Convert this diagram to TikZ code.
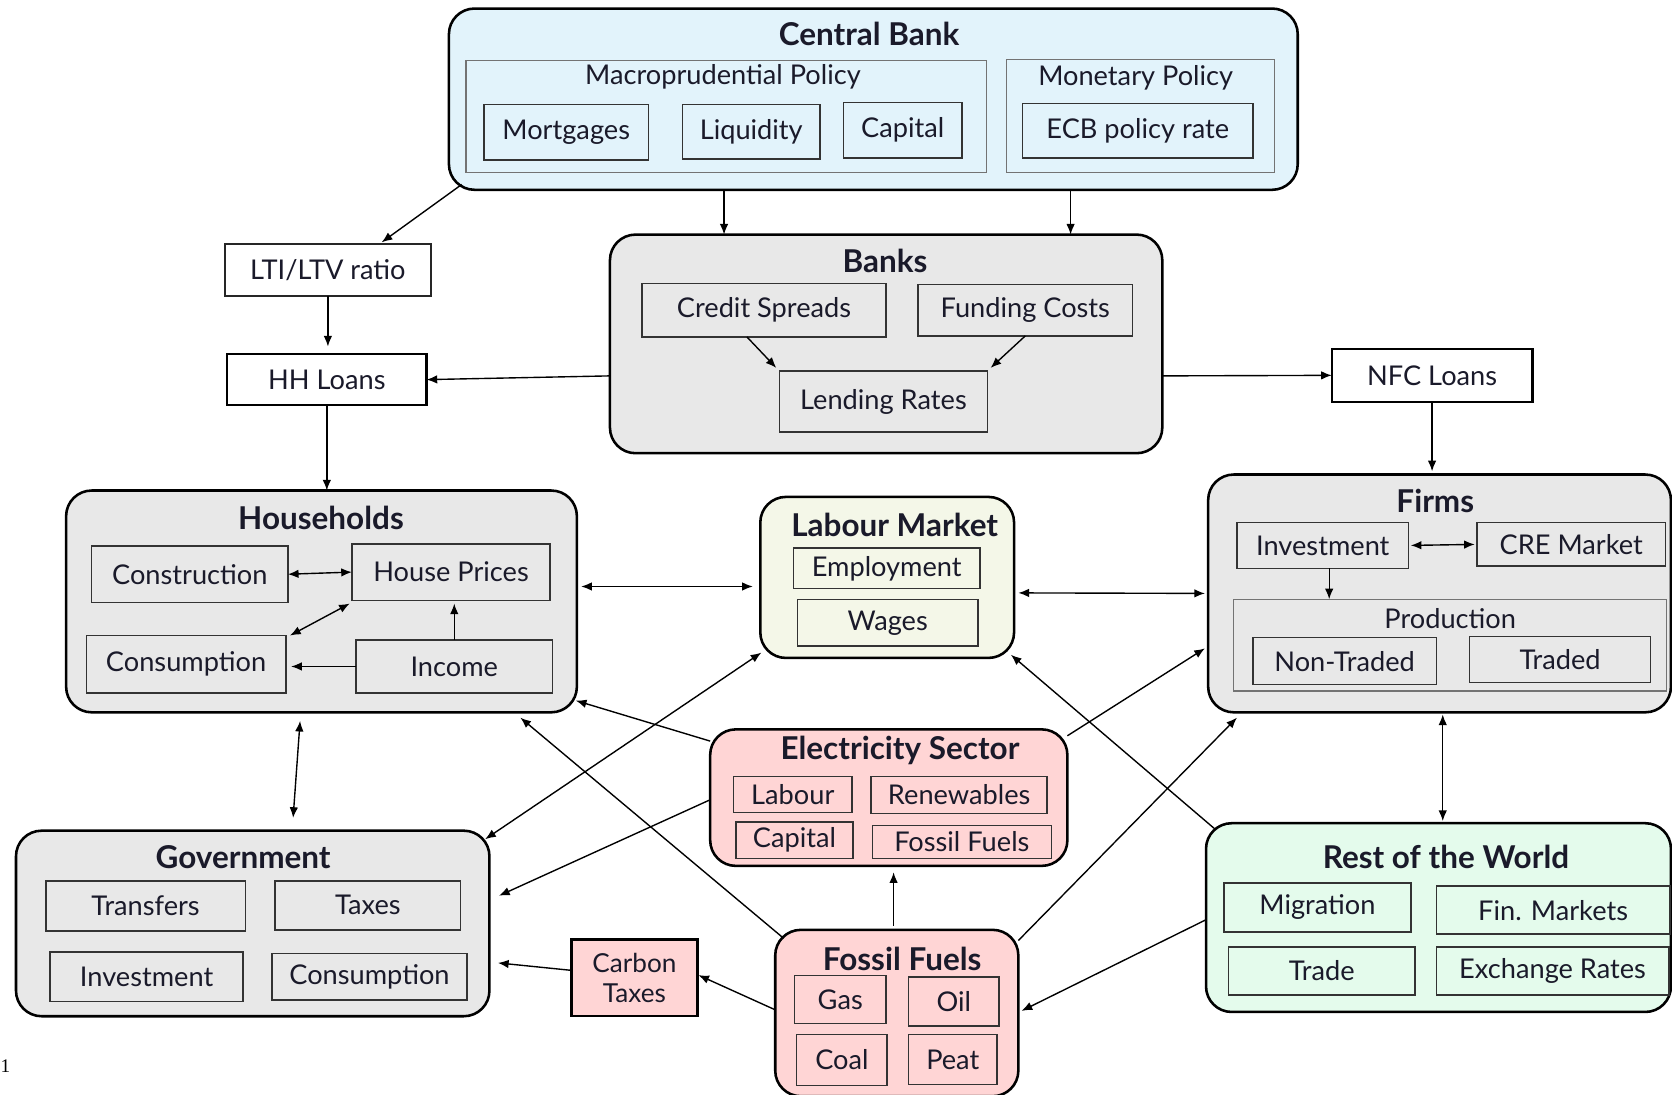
\documentclass[tikz,border=0pt]{standalone}
\usepackage{fontspec}
\setmainfont{Lato}
\newfontfamily\pagefont{Liberation Serif}
\usetikzlibrary{arrows.meta}

\definecolor{ink}{HTML}{1A1A2A}
\definecolor{cbfill}{HTML}{E2F3FB}
\definecolor{grayfill}{HTML}{E8E8E8}
\definecolor{labfill}{HTML}{F4F7E8}
\definecolor{pinkfill}{HTML}{FFD5D5}
\definecolor{rowfill}{HTML}{E4FBEC}

% box from corner (x1,y1) to (x2,y2): style, x1, y1, x2, y2, name, text
\newcommand\bx[7]{%
  \node[inner sep=0pt, outer sep=0pt, #1,
        minimum width={(#4)-(#2)}, minimum height={(#5)-(#3)}]
        (#6) at ({((#2)+(#4))/2},{((#3)+(#5))/2}) {#7};}

\tikzset{
  sector/.style={draw=black, line width=2.4pt, rounded corners=24pt},
  item/.style={draw=black!80, line width=1.4pt, text=ink,
               font=\fontsize{25.5}{30}\selectfont},
  grp/.style={draw=black!55, line width=1.1pt},
  loanbox/.style={item, draw=black, line width=2.2pt, fill=white},
  ttl/.style={font=\fontsize{29.5}{33}\selectfont\bfseries, text=ink, inner sep=0pt},
  subttl/.style={font=\fontsize{25.5}{30}\selectfont, text=ink, inner sep=0pt},
  arr/.style={-{Latex[length=10pt,width=8pt]}, line width=1.3pt},
  darr/.style={{Latex[length=10pt,width=8pt]}-{Latex[length=10pt,width=8pt]}, line width=1.3pt},
}

\begin{document}
\begin{tikzpicture}[x=1pt,y=-1pt]
\useasboundingbox (0,0) rectangle (1568,1026);

% ---------------- Central Bank ----------------
\bx{sector, fill=cbfill}{421}{8}{1217}{178}{cb}{}
\node[ttl] (cbT) at (815,32) {Central Bank};
\bx{grp}{437}{57}{925}{162}{macro}{}
\node[subttl] (macroT) at (678,72) {Macroprudential Policy};
\bx{item}{454}{98}{608}{150}{mort}{Mortgages}
\bx{item}{640}{98}{769}{149}{liq}{Liquidity}
\bx{item}{791}{96}{902}{148}{cap}{Capital}
\bx{grp}{944}{56}{1195}{162}{mon}{}
\node[subttl] (monT) at (1065,73) {Monetary Policy};
\bx{item}{959}{97}{1175}{148}{ecb}{ECB policy rate}

% ---------------- Loans ----------------
\bx{item, draw=black!85, line width=1.8pt, fill=white}{211}{229}{404}{278}{lti}{LTI/LTV ratio}
\bx{loanbox}{213}{332}{400}{380}{hh}{HH Loans}
\bx{loanbox}{1249}{327}{1437}{377}{nfc}{NFC Loans}

% ---------------- Banks ----------------
\bx{sector, fill=grayfill}{572}{220}{1090}{425}{banks}{}
\node[ttl] (banksT) at (830,245) {Banks};
\bx{item}{602}{266}{831}{316}{cs}{Credit Spreads}
\bx{item}{861}{267}{1062}{315}{fc}{Funding Costs}
\bx{item}{731}{348}{926}{405}{lr}{Lending Rates}

% ---------------- Households ----------------
\bx{sector, fill=grayfill}{62}{460}{541}{668}{hhd}{}
\node[ttl] (hhdT) at (301,486) {Households};
\bx{item}{86}{512}{270}{565}{constr}{Construction}
\bx{item}{330}{510}{516}{563}{hp}{House Prices}
\bx{item}{81}{596}{268}{650}{cons}{Consumption}
\bx{item}{334}{600}{518}{650}{inc}{Income}

% ---------------- Labour Market ----------------
\bx{sector, fill=labfill}{713}{466}{951}{617}{lm}{}
\node[ttl] (lmT) at (839,492) {Labour Market};
\bx{item}{744}{514}{919}{552}{emp}{Employment}
\bx{item}{748}{562}{917}{606}{wag}{Wages}

% ---------------- Firms ----------------
\bx{sector, fill=grayfill}{1133}{445}{1567}{668}{firms}{}
\node[ttl] (firmsT) at (1346,470) {Firms};
\bx{item}{1160}{490}{1321}{533}{inv}{Investment}
\bx{item}{1385}{490}{1562}{531}{cre}{CRE Market}
\bx{grp}{1157}{562}{1563}{648}{prod}{}
\node[subttl] (prodT) at (1360,580) {Production};
\bx{item}{1175}{598}{1347}{642}{nt}{Non-Traded}
\bx{item}{1378}{597}{1548}{640}{tr}{Traded}

% ---------------- Government ----------------
\bx{sector, fill=grayfill}{15}{779}{459}{953}{gov}{}
\node[ttl] (govT) at (228,804) {Government};
\bx{item}{43}{826}{230}{873}{transf}{Transfers}
\bx{item}{258}{826}{432}{872}{taxes}{Taxes}
\bx{item}{47}{893}{228}{939}{ginv}{Investment}
\bx{item}{255}{894}{438}{938}{gcons}{Consumption}

% ---------------- Electricity Sector ----------------
\bx{sector, fill=pinkfill}{666}{684}{1001}{812}{elec}{}
\node[ttl] (elecT) at (844,704) {Electricity Sector};
\bx{item}{688}{728}{799}{762}{elab}{Labour}
\bx{item}{817}{728}{982}{763}{eren}{Renewables}
\bx{item}{690}{771}{800}{805}{ecap}{Capital}
\bx{item}{818}{774}{986}{805}{efos}{Fossil Fuels}

% ---------------- Fossil Fuels ----------------
\bx{sector, fill=pinkfill}{727}{872}{955}{1028}{ff}{}
\node[ttl] (ffT) at (846,899) {Fossil Fuels};
\bx{item}{745}{915}{831}{960}{gas}{Gas}
\bx{item}{852}{916}{937}{962}{oil}{Oil}
\bx{item}{747}{970}{832}{1018}{coal}{Coal}
\bx{item}{852}{970}{935}{1017}{peat}{Peat}

% ---------------- Carbon Taxes ----------------
\bx{item, draw=black, line width=2.2pt, fill=pinkfill, align=center,
    font=\fontsize{24.5}{28}\selectfont}{536}{881}{654}{953}{ct}{Carbon\\Taxes}

% ---------------- Rest of the World ----------------
\bx{sector, fill=rowfill}{1131}{772}{1567}{949}{row}{}
\node[ttl] (rowT) at (1356,804) {Rest of the World};
\bx{item}{1148}{828}{1323}{874}{mig}{Migration}
\bx{item}{1347}{831}{1566}{876}{fin}{Fin. Markets}
\bx{item}{1152}{888}{1327}{933}{trade}{Trade}
\bx{item}{1347}{888}{1565}{933}{exr}{Exchange Rates}

% page number fragment
\node[font=\pagefont\fontsize{18}{20}\selectfont, inner sep=0pt] (pg) at (5,1000) {1};

% ---------------- Connectors ----------------
% central bank
\draw[arr] ([xshift=-140pt]cb.south) -- ([xshift=-140pt]cb.south |- banks.north);
\draw[arr] ([xshift=185pt]cb.south) -- ([xshift=185pt]cb.south |- banks.north);
\draw[arr, shorten >=3pt] ([xshift=12pt,yshift=5pt]cb.south west) -- ([xshift=48pt]lti.north);
% loans
\draw[arr, shorten >=7pt] (lti.south) -- (lti.south |- hh.north);
\draw[arr] ([yshift=-30pt]banks.west) -- (hh.east);
\draw[arr] (hh.south) -- (hh.south |- hhd.north);
\draw[arr] ([yshift=-30pt]banks.east) -- (nfc.west);
\draw[arr, shorten >=3pt] (nfc.south) -- (nfc.south |- firms.north);
% inside banks
\draw[arr] ([xshift=-16pt]cs.south) -- ([xshift=-3pt,yshift=3pt]lr.north west);
\draw[arr] (fc.south) -- ([xshift=3pt,yshift=3pt]lr.north east);
% inside households
\draw[darr] (constr.east) -- (hp.west);
\draw[darr] ([xshift=4pt]cons.north east) -- ([xshift=-2pt,yshift=-3pt]hp.south west);
\draw[arr, shorten >=3pt] (inc.north) -- (inc.north |- hp.south);
\draw[arr, shorten >=5pt] (inc.west) -- (inc.west -| cons.east);
% labour market links
\draw[darr, shorten <=4pt, shorten >=7pt] ([yshift=14pt]hhd.east) -- ([yshift=-8.5pt]lm.west);
\draw[darr, shorten <=4pt, shorten >=3pt] ([yshift=-14.5pt]lm.east) -- (firms.west);
% inside firms
\draw[darr, shorten <=2pt, shorten >=2pt] (inv.east) -- (cre.west);
\draw[arr] ([xshift=6pt]inv.south) -- ([xshift=6pt]inv.south |- prod.north);
% vertical two-way links
\draw[darr, shorten <=2pt, shorten >=2pt] ([xshift=3pt]firms.south) -- ([xshift=3pt]firms.south |- row.north);
\draw[darr, shorten <=8pt, shorten >=12pt] ([xshift=-19.5pt]hhd.south) -- ([xshift=37pt]gov.north);
% electricity sector
\draw[arr] ([yshift=53pt]elec.west) -- ([xshift=-1pt,yshift=11pt]hhd.south east);
\draw[arr] ([yshift=-2pt]elec.west) -- ([xshift=9pt,yshift=26pt]gov.east);
\draw[arr] ([yshift=58pt]elec.east) -- ([xshift=-3pt,yshift=-51.5pt]firms.west);
% crossing links
\draw[darr] ([xshift=-4pt,yshift=-8pt]gov.north east) -- ([xshift=1pt,yshift=5pt]lm.south west);
\draw[arr] ([xshift=8pt,yshift=-8pt]ff.north west) -- ([xshift=-53pt,yshift=-5pt]hhd.south east);
\draw[arr] ([xshift=9pt,yshift=-6pt]row.north west) -- ([xshift=-3pt,yshift=3pt]lm.south east);
\draw[arr] ([yshift=-10pt]ff.north east) -- ([xshift=27pt,yshift=-5pt]firms.south west);
\draw[arr] ([yshift=-2pt]row.west) -- ([xshift=3pt,yshift=2pt]ff.east);
% fossil fuels and carbon taxes
\draw[arr, shorten <=4pt, shorten >=6pt] ([xshift=-3pt]ff.north) -- ([xshift=-3pt]ff.north |- elec.south);
\draw[arr, shorten >=1pt] ([yshift=3pt]ff.west) -- ([yshift=3pt]ct.east);
\draw[arr] ([yshift=7pt]ct.west) -- ([xshift=8pt,yshift=-37pt]gov.east);
\end{tikzpicture}
\end{document}
